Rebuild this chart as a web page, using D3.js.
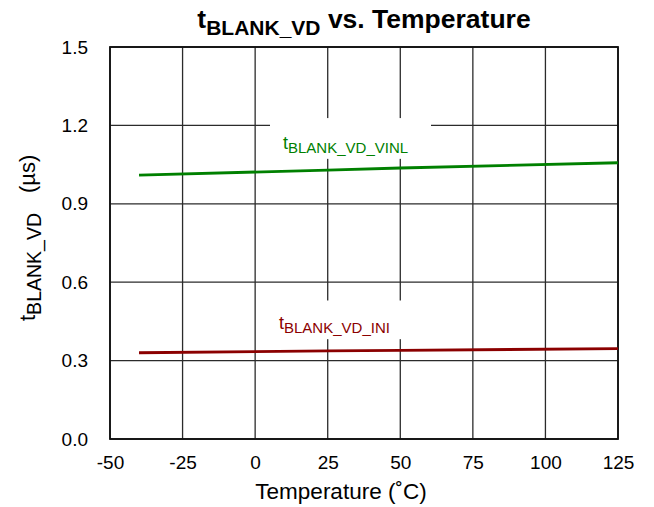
<!DOCTYPE html>
<html>
<head>
<meta charset="utf-8">
<script src="https://cdn.jsdelivr.net/npm/d3@7"></script>
<style>
  html, body { margin: 0; padding: 0; background: #fff; }
  svg { display: block; font-family: Arial, "Liberation Sans", sans-serif; }
</style>
</head>
<body>
<svg id="chart" width="654" height="507"></svg>
<script>
// Blanking time vs. temperature
const temperatures = [-40, 25, 50, 125];
const blankVinl = [1.010, 1.029, 1.037, 1.057];
const blankIni = [0.330, 0.337, 0.339, 0.346];
const xTicks = [-50, -25, 0, 25, 50, 75, 100, 125];
const yTicks = [0.0, 0.3, 0.6, 0.9, 1.2, 1.5];

const svg = d3.select("#chart");
const margin = { left: 110, right: 36, top: 47, bottom: 68 };
const W = 654, H = 507;
const FONT = "Arial, 'Liberation Sans', sans-serif";

const x = d3.scaleLinear().domain([-50, 125]).range([margin.left, W - margin.right]);
const y = d3.scaleLinear().domain([0, 1.5]).range([H - margin.bottom, margin.top]);

// grid
const grid = svg.append("g");
grid.selectAll("line.v").data(xTicks).join("line")
  .attr("x1", d => x(d)).attr("x2", d => x(d))
  .attr("y1", y(0)).attr("y2", y(1.5))
  .attr("stroke", "#2b2b2b").attr("stroke-width", 1.3);
grid.selectAll("line.h").data(yTicks).join("line")
  .attr("x1", x(-50)).attr("x2", x(125))
  .attr("y1", d => y(d)).attr("y2", d => y(d))
  .attr("stroke", "#2b2b2b").attr("stroke-width", 1.3);

// label backgrounds that cover the grid behind the series names
const boxes = [
  { x0: 270, x1: 431, v0: 1.072, v1: 1.228 },
  { x0: 266, x1: 424, v0: 0.382, v1: 0.530 }
];
svg.append("g").selectAll("rect").data(boxes).join("rect")
  .attr("x", d => d.x0).attr("width", d => d.x1 - d.x0)
  .attr("y", d => y(d.v1)).attr("height", d => y(d.v0) - y(d.v1))
  .attr("fill", "#fff");

// frame
svg.append("rect")
  .attr("x", x(-50)).attr("y", y(1.5))
  .attr("width", x(125) - x(-50)).attr("height", y(0) - y(1.5))
  .attr("fill", "none").attr("stroke", "#111").attr("stroke-width", 1.8);

// axes
const xAxis = d3.axisBottom(x).tickValues(xTicks).tickSize(0).tickPadding(17).tickFormat(d => String(d));
const gx = svg.append("g").attr("transform", `translate(0,${y(0)})`).call(xAxis);
gx.select(".domain").remove();
gx.selectAll("text").attr("font-size", 19).attr("fill", "#000").attr("font-family", FONT);

const yAxis = d3.axisLeft(y).tickValues(yTicks).tickSize(0).tickPadding(22).tickFormat(d3.format(".1f"));
const gy = svg.append("g").attr("transform", `translate(${x(-50)},0)`).call(yAxis);
gy.select(".domain").remove();
gy.selectAll("text").attr("font-size", 19).attr("fill", "#000").attr("font-family", FONT);

// series
const line = d3.line().x(d => x(d[0])).y(d => y(d[1]));
svg.append("path").datum(d3.zip(temperatures, blankVinl))
  .attr("d", line).attr("fill", "none").attr("stroke", "#008000").attr("stroke-width", 2.8);
svg.append("path").datum(d3.zip(temperatures, blankIni))
  .attr("d", line).attr("fill", "none").attr("stroke", "#8b0000").attr("stroke-width", 2.8);

// series names
function subLabel(px, py, main, sub, size, subSize, shift, color) {
  const t = svg.append("text").attr("x", px).attr("y", py)
    .attr("fill", color).attr("font-size", size);
  t.append("tspan").text(main);
  t.append("tspan").attr("dy", shift).attr("font-size", subSize).text(sub);
  return t;
}
subLabel(283, 149, "t", "BLANK_VD_VINL", 18, 15, 4, "#008000");
subLabel(279, 329, "t", "BLANK_VD_INI", 18, 15, 4, "#8b0000");

// title
const title = svg.append("text").attr("x", 364).attr("y", 28)
  .attr("text-anchor", "middle").attr("font-size", 26.5).attr("font-weight", "bold").attr("fill", "#000");
title.append("tspan").text("t");
title.append("tspan").attr("dy", 7).attr("font-size", 21).text("BLANK_VD");
title.append("tspan").attr("dy", -7).text(" vs. Temperature");

// axis titles
svg.append("text").attr("x", 341).attr("y", 499).attr("text-anchor", "middle")
  .attr("font-size", 22.5).attr("fill", "#000").text("Temperature (˚C)");

const yl = svg.append("text").attr("transform", "translate(35,321) rotate(-90)")
  .attr("text-anchor", "start").attr("font-size", 22).attr("fill", "#000");
yl.append("tspan").text("t");
yl.append("tspan").attr("dy", 6).attr("font-size", 19.5).text("BLANK_VD");
yl.append("tspan").attr("dy", -6).attr("dx", 20).text("(µs)");
</script>
</body>
</html>
